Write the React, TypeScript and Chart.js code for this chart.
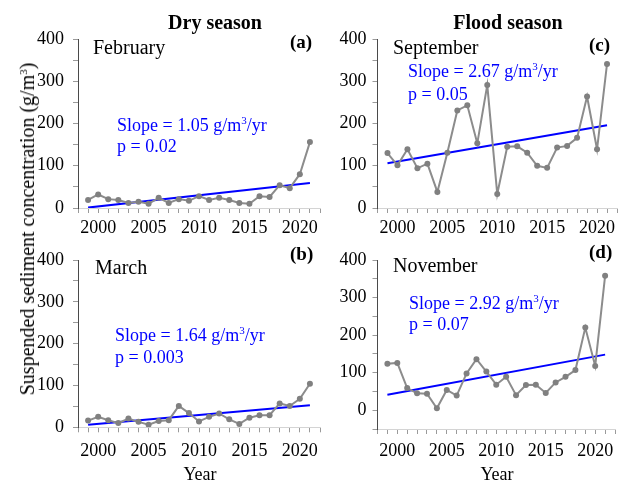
import React, { useEffect, useRef } from "react";
import { Chart, registerables } from "chart.js";

Chart.register(...registerables);

// ---------- data ----------
const years = [1999, 2000, 2001, 2002, 2003, 2004, 2005, 2006, 2007, 2008, 2009, 2010, 2011, 2012, 2013, 2014, 2015, 2016, 2017, 2018, 2019, 2020, 2021];
const febValues = [19, 32, 21, 19, 12, 15, 10, 24, 12, 21, 17, 28, 19, 24, 19, 12, 10, 28, 26, 54, 47, 80, 156];
const marValues = [16, 25, 17, 10, 21, 13, 6, 15, 17, 51, 34, 14, 25, 33, 19, 8, 23, 29, 29, 57, 51, 68, 104];
const sepValues = [130, 101, 139, 94, 105, 38, 131, 231, 243, 153, 291, 33, 145, 146, 131, 100, 95, 143, 147, 166, 264, 139, 341];
const novValues = [124, 126, 59, 45, 44, 5, 54, 39, 98, 136, 103, 68, 89, 40, 67, 68, 46, 74, 89, 107, 220, 118, 358];
const trendYears = [1999, 2021];
const febTrend = [1, 59];
const marTrend = [6, 53];
const sepTrend = [106, 196];
const novTrend = [41, 148];
const xTickYears = [1998, 1999, 2000, 2001, 2002, 2003, 2004, 2005, 2006, 2007, 2008, 2009, 2010, 2011, 2012, 2013, 2014, 2015, 2016, 2017, 2018, 2019, 2020, 2021, 2022];
const xLabelYears = [2000, 2005, 2010, 2015, 2020];
const yTicksMain = [0, 50, 100, 150, 200, 250, 300, 350, 400];
const yTicksNov = [-50, 0, 50, 100, 150, 200, 250, 300, 350, 400];
const yLabelValues = [0, 100, 200, 300, 400];

const FONT = "'Liberation Serif', 'Times New Roman', serif";

type Box = { left: number; top: number; width: number; height: number };
type Area = { left: number; right: number; top: number; bottom: number };

function Panel(props: {
  values: number[];
  trend: number[];
  yMin: number;
  yMax: number;
  yTicks: number[];
  box: Box;
  area: Area;
  xPad: number;
  yPad: number;
}) {
  const ref = useRef<HTMLCanvasElement>(null);
  useEffect(() => {
    const { values, trend, yMin, yMax, yTicks, box, area, xPad, yPad } = props;
    const chart = new Chart(ref.current!, {
      type: "line",
      data: {
        datasets: [
          {
            data: years.map((x, i) => ({ x, y: values[i] })),
            borderColor: "#8c8c8c",
            backgroundColor: "#808080",
            pointBackgroundColor: "#808080",
            pointBorderWidth: 0,
            pointRadius: 3,
            borderWidth: 2,
            tension: 0,
          },
          {
            data: trendYears.map((x, i) => ({ x, y: trend[i] })),
            borderColor: "#0000ff",
            borderWidth: 2,
            pointRadius: 0,
            tension: 0,
          },
        ],
      },
      options: {
        animation: false,
        responsive: false,
        maintainAspectRatio: false,
        plugins: { legend: { display: false }, tooltip: { enabled: false } },
        layout: {
          padding: {
            left: 0,
            top: area.top - box.top,
            right: box.left + box.width - area.right,
            bottom: 0,
          },
        },
        scales: {
          x: {
            type: "linear",
            min: 1998,
            max: 2022,
            afterBuildTicks: (s: any) => {
              s.ticks = xTickYears.map((v) => ({ value: v }));
            },
            afterFit: (s: any) => {
              s.height = box.top + box.height - area.bottom;
            },
            ticks: {
              autoSkip: false,
              maxRotation: 0,
              padding: xPad,
              color: "#000",
              font: { family: FONT, size: 18 },
              callback: (v: any) => (xLabelYears.includes(Math.round(Number(v))) ? String(Math.round(Number(v))) : ""),
            },
            grid: { drawOnChartArea: false, drawTicks: true, tickLength: 5, tickColor: "#9a9a9a" },
            border: { display: true, color: "#d4d4d4", width: 1 },
          },
          y: {
            type: "linear",
            min: yMin,
            max: yMax,
            afterBuildTicks: (s: any) => {
              s.ticks = yTicks.map((v) => ({ value: v }));
            },
            afterFit: (s: any) => {
              s.width = area.left - box.left;
            },
            ticks: {
              autoSkip: false,
              padding: yPad,
              color: "#000",
              font: { family: FONT, size: 18 },
              callback: (v: any) => (yLabelValues.includes(Math.round(Number(v))) ? String(Math.round(Number(v))) : ""),
            },
            grid: { drawOnChartArea: false, drawTicks: true, tickLength: 5, tickColor: "#9a9a9a" },
            border: { display: true, color: "#4a4a4a", width: 1 },
          },
        },
      },
    } as any);
    return () => chart.destroy();
  }, []);
  const { box } = props;
  return (
    <canvas
      ref={ref}
      width={box.width}
      height={box.height}
      style={{ position: "absolute", left: box.left, top: box.top, width: box.width, height: box.height }}
    />
  );
}

function T(props: { x: number; y: number; size: number; bold?: boolean; color?: string; center?: boolean; children: any }) {
  const { x, y, size, bold, color, center, children } = props;
  return (
    <div
      style={{
        position: "absolute",
        left: x,
        top: y,
        fontFamily: FONT,
        fontSize: size,
        fontWeight: bold ? 700 : 400,
        lineHeight: 1,
        color: color || "#000",
        whiteSpace: "nowrap",
        transform: center ? "translateX(-50%)" : undefined,
      }}
    >
      {children}
    </div>
  );
}

function Sup() {
  return <span style={{ fontSize: 11, position: "relative", top: -7 }}>3</span>;
}

function SlopeText(props: { x: number; y: number; y2: number; slope: string; p: string }) {
  const { x, y, y2, slope, p } = props;
  return (
    <>
      <T x={x} y={y} size={18} color="#0000ff">
        Slope = {slope} g/m<Sup />/yr
      </T>
      <T x={x} y={y2} size={18} color="#0000ff">
        p = {p}
      </T>
    </>
  );
}

export default function App() {
  const areaA = { left: 78, right: 320, top: 39, bottom: 208 };
  const areaC = { left: 377.5, right: 617.6, top: 39, bottom: 208 };
  const areaB = { left: 78, right: 320, top: 260, bottom: 427.3 };
  const areaD = { left: 377.5, right: 617.6, top: 260, bottom: 429 };
  return (
    <div style={{ position: "absolute", left: 0, top: 0, width: 621, height: 481, background: "#fff", overflow: "hidden" }}>
      <Panel values={febValues} trend={febTrend} yMin={0} yMax={400} yTicks={yTicksMain}
        box={{ left: 0, top: 0, width: 330, height: 240 }} area={areaA} xPad={4} yPad={9} />
      <Panel values={sepValues} trend={sepTrend} yMin={0} yMax={400} yTicks={yTicksMain}
        box={{ left: 330, top: 0, width: 291, height: 240 }} area={areaC} xPad={4} yPad={6} />
      <Panel values={marValues} trend={marTrend} yMin={0} yMax={400} yTicks={yTicksMain}
        box={{ left: 0, top: 240, width: 330, height: 241 }} area={areaB} xPad={8} yPad={9} />
      <Panel values={novValues} trend={novTrend} yMin={-50} yMax={400} yTicks={yTicksNov}
        box={{ left: 330, top: 240, width: 291, height: 241 }} area={areaD} xPad={6} yPad={6} />

      <T x={215} y={12} size={20} bold center>Dry season</T>
      <T x={508} y={12} size={20} bold center>Flood season</T>

      <T x={93} y={36.5} size={20}>February</T>
      <T x={393} y={36.5} size={20}>September</T>
      <T x={95} y={256.5} size={20}>March</T>
      <T x={393} y={255} size={20}>November</T>

      <T x={290} y={32} size={19} bold>(a)</T>
      <T x={589} y={35} size={19} bold>(c)</T>
      <T x={290} y={244} size={19} bold>(b)</T>
      <T x={589} y={242} size={19} bold>(d)</T>

      <SlopeText x={117} y={116} y2={137} slope="1.05" p="0.02" />
      <SlopeText x={408} y={62} y2={85} slope="2.67" p="0.05" />
      <SlopeText x={115} y={326} y2={348} slope="1.64" p="0.003" />
      <SlopeText x={409} y={294} y2={315} slope="2.92" p="0.07" />

      <T x={200} y={465} size={18} center>Year</T>
      <T x={497} y={465} size={18} center>Year</T>

      <div
        style={{
          position: "absolute",
          left: 26.6,
          top: 229,
          fontFamily: FONT,
          fontSize: 20,
          lineHeight: 1,
          whiteSpace: "nowrap",
          transform: "translate(-50%, -50%) rotate(-90deg)",
        }}
      >
        Suspended sediment concentration (g/m<Sup />)
      </div>
    </div>
  );
}
